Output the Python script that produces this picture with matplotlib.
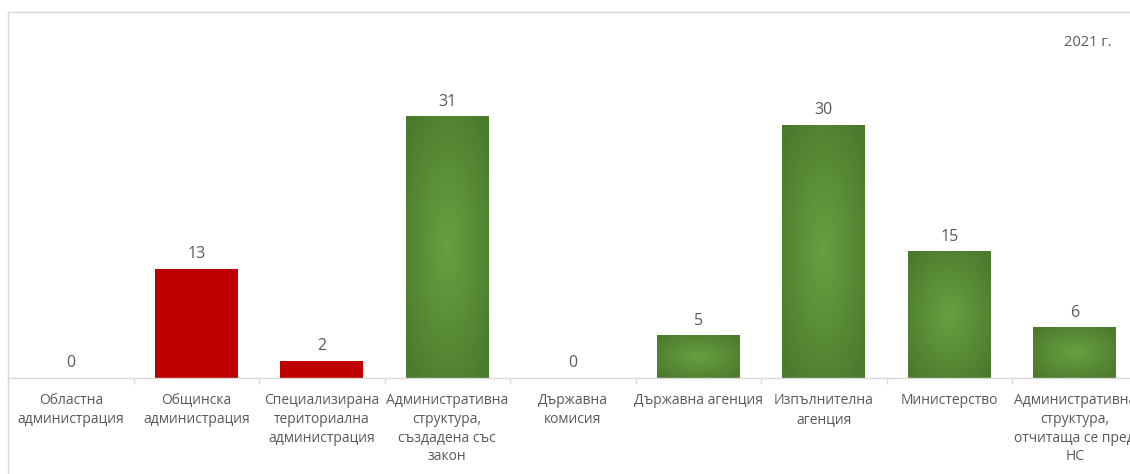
import numpy as np
import matplotlib.pyplot as plt
from matplotlib.colors import LinearSegmentedColormap
from matplotlib.lines import Line2D

# Данни
categories = ["Областна\nадминистрация",
              "Общинска\nадминистрация",
              "Специализирана\nтериториална\nадминистрация",
              "Административна\nструктура,\nсъздадена със\nзакон",
              "Държавна\nкомисия",
              "Държавна агенция",
              "Изпълнителна\nагенция",
              "Министерство",
              "Административна\nструктура,\nотчитаща се пред\nНС"]
values = [0, 13, 2, 31, 0, 5, 30, 15, 6]
is_red = [False, True, True, False, False, False, False, False, False]
title = "2021 г."

plt.rcParams['font.family'] = ['Open Sans', 'DejaVu Sans']
grey_txt = '#595959'
grey_line = '#d9d9d9'

W, H = 1130, 474
fig = plt.figure(figsize=(W / 100, H / 100), dpi=100)

# оста излиза малко вдясно от картинката (изрязана диаграма)
ax_left, ax_right = 8, 1137.5
ax_bot, ax_top = 378, 378 - 35 * 8.42
ax = fig.add_axes([ax_left / W, 1 - ax_bot / H, (ax_right - ax_left) / W, (ax_bot - ax_top) / H])

green_cmap = LinearSegmentedColormap.from_list('gr', ['#67a03f', '#5a8d37', '#4c7a2d'])
bw = 0.66

def gradient_bar(x, h):
    n = 100
    u = np.linspace(-1, 1, n)
    xx, yy = np.meshgrid(u, u)
    r = np.clip(np.sqrt(xx ** 2 + yy ** 2) / 1.3, 0, 1)
    ax.imshow(r, cmap=green_cmap, extent=(x - bw / 2, x + bw / 2, 0, h),
              aspect='auto', origin='lower', zorder=2, interpolation='bilinear')

for i, v in enumerate(values):
    if v > 0:
        if is_red[i]:
            ax.bar(i, v, width=bw, color='#c00000', zorder=2)
        else:
            gradient_bar(i, v)
    ax.annotate(str(v), (i, v), xytext=(0, 5), textcoords='offset points',
                ha='center', va='bottom', fontsize=11.5, color=grey_txt)

ax.set_xlim(-0.5, len(values) - 0.5)
ax.set_ylim(0, 35)

for s in ['top', 'right', 'left']:
    ax.spines[s].set_visible(False)
ax.spines['bottom'].set_color(grey_line)
ax.spines['bottom'].set_linewidth(1)
ax.set_yticks([])
ax.set_xticks(range(len(values)))
ax.set_xticklabels(categories, fontsize=10, color=grey_txt, linespacing=1.33)
ax.set_xticks(np.arange(-0.5, len(values), 1), minor=True)
ax.tick_params(axis='x', which='major', length=0, pad=11)
ax.tick_params(axis='x', which='minor', length=4, color=grey_line, width=1)

# рамка на диаграмата
fig.add_artist(Line2D([8 / W, 1], [1 - 12 / H, 1 - 12 / H], color=grey_line, lw=1))
fig.add_artist(Line2D([8 / W, 8 / W], [1 - 12 / H, 0], color=grey_line, lw=1))

fig.text(1112 / W, 1 - 42 / H, title, ha='right', va='center', fontsize=10.5, color=grey_txt)

fig.savefig('out.png', dpi=100)
